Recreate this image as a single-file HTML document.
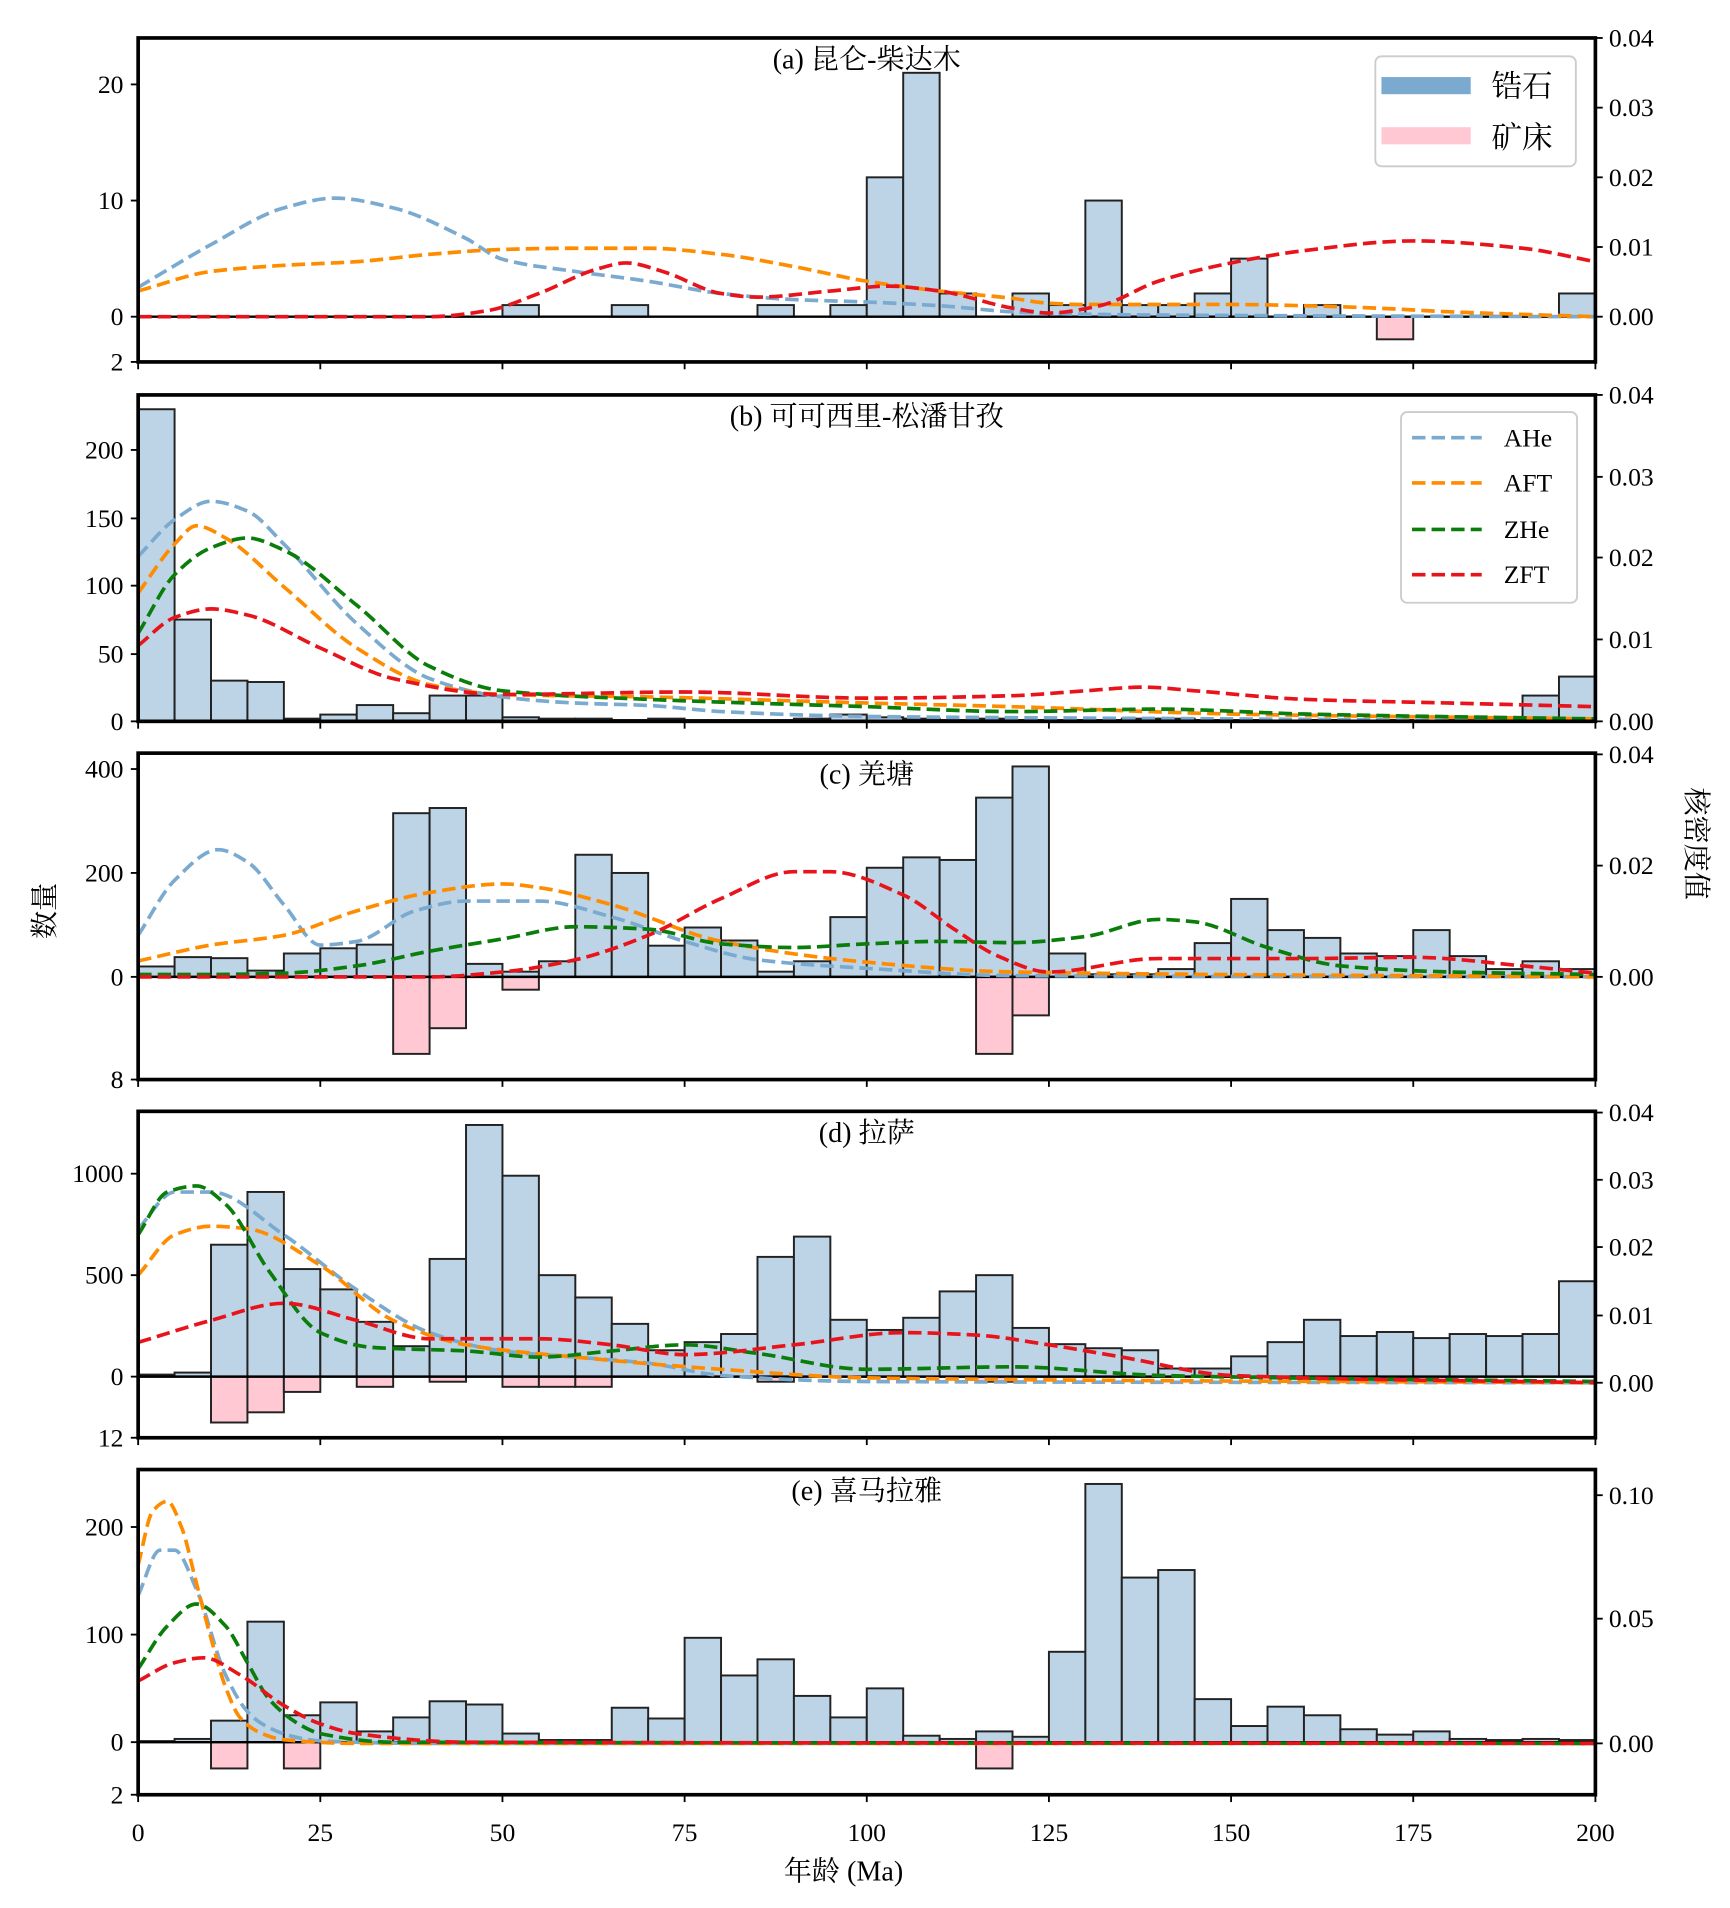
<!DOCTYPE html>
<html><head><meta charset="utf-8"><style>
html,body{margin:0;padding:0;background:#fff}
svg{display:block}
text{font-family:"Liberation Serif","Noto Serif CJK SC","Noto Sans CJK SC",serif;fill:#000}
</style></head><body>
<svg id="s" width="1730" height="1908" viewBox="0 0 1415.1 1560.6" xmlns="http://www.w3.org/2000/svg"></svg>
<script>
const S=document.getElementById('s');let h='';
const X=a=>113+a*5.96;
const panels=[
{top:31,bot:296,y0:259,k:9.5,mk:18.5,title:'(a)  昆仑-柴达木',
 lt:[[259,'0'],[164,'10'],[69,'20'],[296,'2']],
 rt:[[31,'0.04'],[88,'0.03'],[145,'0.02'],[202,'0.01'],[259,'0.00']],
 bars:{50:1,65:1,85:1,95:1,100:12,105:21,110:2,120:2,125:1,130:10,135:1,140:1,145:2,150:5,160:1,195:2},
 min:{170:1},
 curves:{
 b:[[0,235],[10,200],[20,170],[27,162],[35,170],[45,195],[50,212],[60,222],[70,230],[80,240],[90,245],[100,247],[110,250],[120,255],[130,257],[150,258],[200,259]],
 o:[[0,238],[10,222],[20,217],[30,214],[40,208],[50,204],[60,203],[70,203],[80,208],[90,218],[100,230],[110,238],[120,244],[125,248],[130,249],[150,249],[160,250],[170,252],[180,255],[200,259]],
 r:[[0,259],[40,259],[48,254],[55,240],[63,220],[67,215],[72,222],[80,240],[85,243],[95,238],[103,234],[110,238],[120,252],[125,256],[132,250],[140,230],[150,215],[160,205],[175,197],[190,203],[200,214]]}},
{top:323,bot:590,y0:590,k:1.11,title:'(b)  可可西里-松潘甘孜',
 lt:[[590,'0'],[535,'50'],[479,'100'],[424,'150'],[368,'200']],
 rt:[[323,'0.04'],[390,'0.03'],[456,'0.02'],[523,'0.01'],[590,'0.00']],
 bars:{0:230,5:75,10:30,15:29,20:2,25:5,30:12,35:6,40:19,45:19,50:3,55:2,60:2,65:1,70:2,75:1,80:1,85:1,90:2,95:5,100:3,105:2,110:1,115:2,120:1,125:1,130:1,135:2,140:2,145:1,150:1,160:1,170:1,180:2,185:2,190:19,195:33},
 min:{},
 curves:{
 b:[[0,455],[5,425],[10,410],[15,418],[20,445],[30,510],[40,555],[50,570],[60,575],[70,577],[80,582],[100,586],[120,587],[150,588],[200,590]],
 o:[[0,485],[5,445],[8,430],[12,440],[20,480],[30,530],[40,560],[50,568],[70,570],[100,575],[120,578],[150,584],[200,588]],
 g:[[0,518],[5,470],[10,448],[15,440],[20,450],[30,495],[40,545],[50,565],[70,572],[100,578],[120,582],[140,580],[160,584],[200,588]],
 r:[[0,528],[5,505],[10,498],[15,503],[25,530],[35,555],[50,568],[75,566],[100,571],[120,569],[130,565],[138,562],[145,565],[160,572],[180,575],[200,578]]}},
{top:616,bot:883,y0:799,k:0.425,mk:10.5,title:'(c)  羌塘',
 lt:[[799,'0'],[714,'200'],[629,'400'],[883,'8']],
 rt:[[617,'0.04'],[708,'0.02'],[799,'0.00']],
 bars:{0:20,5:38,10:36,15:12,20:45,25:55,30:62,35:315,40:325,45:25,50:10,55:30,60:235,65:200,70:60,75:95,80:70,85:10,90:30,95:115,100:210,105:230,110:225,115:345,120:405,125:45,130:5,135:5,140:15,145:65,150:150,155:90,160:75,165:45,170:40,175:90,180:40,185:15,190:30,195:15},
 min:{35:6,40:4,50:1,115:6,120:3},
 curves:{
 b:[[0,765],[5,720],[11,695],[15,705],[20,740],[25,773],[30,770],[38,745],[45,737],[55,737],[65,750],[75,770],[85,785],[100,792],[120,798],[200,799]],
 o:[[0,786],[10,773],[20,765],[30,745],[40,730],[50,723],[55,726],[65,740],[80,770],[100,787],[120,795],[200,799]],
 g:[[0,797],[10,797],[20,796],[30,790],[40,778],[50,768],[60,758],[70,760],[80,772],[90,775],[100,772],[110,770],[120,771],[130,766],[140,752],[145,754],[155,775],[165,790],[180,795],[200,797]],
 r:[[0,799],[40,799],[50,795],[60,785],[70,765],[80,735],[90,713],[95,713],[105,732],[112,760],[118,782],[125,795],[140,784],[160,784],[175,783],[190,790],[200,796]]}},
{top:909,bot:1176,y0:1126,k:0.166,mk:4.17,title:'(d)  拉萨',
 lt:[[1126,'0'],[1043,'500'],[960,'1000'],[1176,'12']],
 rt:[[910,'0.04'],[965,'0.03'],[1020,'0.02'],[1076,'0.01'],[1131,'0.00']],
 bars:{0:10,5:20,10:650,15:910,20:530,25:430,30:270,35:150,40:580,45:1240,50:990,55:500,60:390,65:260,70:130,75:170,80:210,85:590,90:690,95:280,100:230,105:290,110:420,115:500,120:240,125:160,130:140,135:130,140:40,145:40,150:100,155:170,160:280,165:200,170:220,175:190,180:210,185:200,190:210,195:470},
 min:{10:9,15:7,20:3,30:2,40:1,50:2,55:2,60:2,85:1,115:1,170:1},
 curves:{
 b:[[0,1005],[5,975],[10,975],[20,1010],[30,1055],[40,1090],[50,1105],[60,1110],[70,1115],[80,1125],[100,1130],[200,1131]],
 o:[[0,1043],[5,1010],[10,1003],[15,1005],[25,1035],[35,1080],[45,1100],[60,1110],[80,1120],[100,1127],[200,1131]],
 g:[[0,1010],[4,975],[8,970],[12,985],[18,1040],[25,1090],[32,1102],[45,1105],[55,1110],[65,1105],[75,1100],[85,1107],[100,1120],[120,1118],[140,1125],[200,1130]],
 r:[[0,1098],[10,1080],[20,1066],[30,1080],[40,1095],[55,1095],[65,1100],[75,1108],[90,1100],[105,1090],[115,1092],[125,1100],[135,1110],[150,1125],[200,1131]]}},
{top:1202,bot:1468,y0:1425,k:0.88,mk:21.5,title:'(e)  喜马拉雅',
 lt:[[1425,'0'],[1337,'100'],[1249,'200'],[1468,'2']],
 rt:[[1223,'0.10'],[1324,'0.05'],[1426,'0.00']],
 bars:{0:1,5:3,10:20,15:112,20:25,25:37,30:10,35:23,40:38,45:35,50:8,55:2,60:2,65:32,70:22,75:97,80:62,85:77,90:43,95:23,100:50,105:6,110:3,115:10,120:5,125:84,130:240,135:153,140:160,145:40,150:15,155:33,160:25,165:12,170:7,175:10,180:3,185:2,190:3,195:2},
 min:{10:1,20:1,115:1},
 curves:{
 b:[[0,1305],[3,1268],[5,1268],[8,1300],[12,1370],[15,1400],[17,1410],[21,1420],[25,1424],[40,1426],[200,1426]],
 o:[[0,1280],[2,1236],[4,1228],[6,1250],[8,1295],[10,1340],[12,1380],[14,1405],[17,1418],[20,1423],[30,1426],[200,1426]],
 g:[[0,1365],[4,1330],[8,1312],[12,1330],[15,1360],[18,1390],[22,1410],[25,1418],[35,1425],[200,1426]],
 r:[[0,1375],[5,1360],[9,1356],[14,1370],[20,1395],[25,1410],[30,1418],[45,1425],[200,1426]]}}
];
const col={b:'#7aaad0',o:'#ff8c00',g:'#0a7d0a',r:'#e8141c'};
function spline(p){
 const n=p.length,d=[],m=[];
 for(let i=0;i<n-1;i++)d.push((p[i+1][1]-p[i][1])/(p[i+1][0]-p[i][0]));
 m[0]=d[0];m[n-1]=d[n-2];
 for(let i=1;i<n-1;i++){ if(d[i-1]*d[i]<=0)m[i]=0; else {const w1=2*(p[i+1][0]-p[i][0])+(p[i][0]-p[i-1][0]),w2=(p[i+1][0]-p[i][0])+2*(p[i][0]-p[i-1][0]);m[i]=(w1+w2)/(w1/d[i-1]+w2/d[i]);}}
 let s=`M${p[0][0]},${p[0][1]}`;
 for(let i=0;i<n-1;i++){const hx=(p[i+1][0]-p[i][0])/3;
 s+=` C${p[i][0]+hx},${p[i][1]+m[i]*hx} ${p[i+1][0]-hx},${p[i+1][1]-m[i+1]*hx} ${p[i+1][0]},${p[i+1][1]}`;}
 return s;}
panels.forEach((P,i)=>{
 h+=`<defs><clipPath id="c${i}"><rect x="113" y="${P.top}" width="1192" height="${P.bot-P.top}"/></clipPath></defs>`;
 for(const a in P.bars){const v=P.bars[a],y=P.y0-v*P.k;h+=`<rect x="${X(+a)}" y="${y}" width="29.8" height="${v*P.k}" fill="#bcd4e6" stroke="#222" stroke-width="1.6"/>`;}
 for(const a in P.min){const v=P.min[a];h+=`<rect x="${X(+a)}" y="${P.y0}" width="29.8" height="${v*P.mk}" fill="#ffc8d3" stroke="#222" stroke-width="1.6"/>`;}
 if(P.y0<P.bot)h+=`<line x1="113" x2="1305" y1="${P.y0}" y2="${P.y0}" stroke="#000" stroke-width="2"/>`;
 h+=`<g clip-path="url(#c${i})">`;
 for(const c in P.curves){const p=P.curves[c].map(q=>[X(q[0]),q[1]]);h+=`<path d="${spline(p)}" fill="none" stroke="${col[c]}" stroke-width="3" stroke-dasharray="11,5"/>`;}
 h+=`</g>`;
 h+=`<rect x="113" y="${P.top}" width="1192" height="${P.bot-P.top}" fill="none" stroke="#000" stroke-width="3"/>`;
 for(let a=0;a<=200;a+=25)h+=`<line x1="${X(a)}" x2="${X(a)}" y1="${P.bot}" y2="${P.bot+6}" stroke="#000" stroke-width="1.5"/>`;
 P.lt.forEach(t=>{h+=`<line x1="107" x2="113" y1="${t[0]}" y2="${t[0]}" stroke="#000" stroke-width="1.5"/><text x="101" y="${t[0]+7}" font-size="21" text-anchor="end">${t[1]}</text>`;});
 P.rt.forEach(t=>{h+=`<line x1="1305" x2="1311" y1="${t[0]}" y2="${t[0]}" stroke="#000" stroke-width="1.5"/><text x="1316" y="${t[0]+7}" font-size="21">${t[1]}</text>`;});
 h+=`<text x="709" y="${P.top+25}" font-size="23" text-anchor="middle">${P.title}</text>`;
});
for(let a=0;a<=200;a+=25)h+=`<text x="${X(a)}" y="1506" font-size="21" text-anchor="middle">${a}</text>`;
h+=`<text x="690" y="1538" font-size="23" text-anchor="middle">年龄 (Ma)</text>`;
h+=`<text transform="translate(44,745) rotate(-90)" font-size="23" text-anchor="middle">数量</text>`;
h+=`<text transform="translate(1380,690) rotate(90)" font-size="23" text-anchor="middle">核密度值</text>`;
h+=`<rect x="1125" y="46" width="164" height="90" rx="5" fill="#fff" fill-opacity="0.85" stroke="#ccc" stroke-width="1.5"/>`;
h+=`<rect x="1130" y="63" width="73" height="14" fill="#7aaad0"/><text x="1220" y="79" font-size="25">锆石</text>`;
h+=`<rect x="1130" y="104" width="73" height="14" fill="#ffc8d3"/><text x="1220" y="121" font-size="25">矿床</text>`;
h+=`<rect x="1146" y="337" width="144" height="156" rx="5" fill="#fff" fill-opacity="0.85" stroke="#ccc" stroke-width="1.5"/>`;
[['b','AHe',358],['o','AFT',395],['g','ZHe',433],['r','ZFT',470]].forEach(l=>{h+=`<line x1="1155" x2="1212" y1="${l[2]}" y2="${l[2]}" stroke="${col[l[0]]}" stroke-width="3" stroke-dasharray="11,5"/><text x="1230" y="${l[2]+7}" font-size="21">${l[1]}</text>`;});
S.innerHTML=h;
</script>
</body></html>
